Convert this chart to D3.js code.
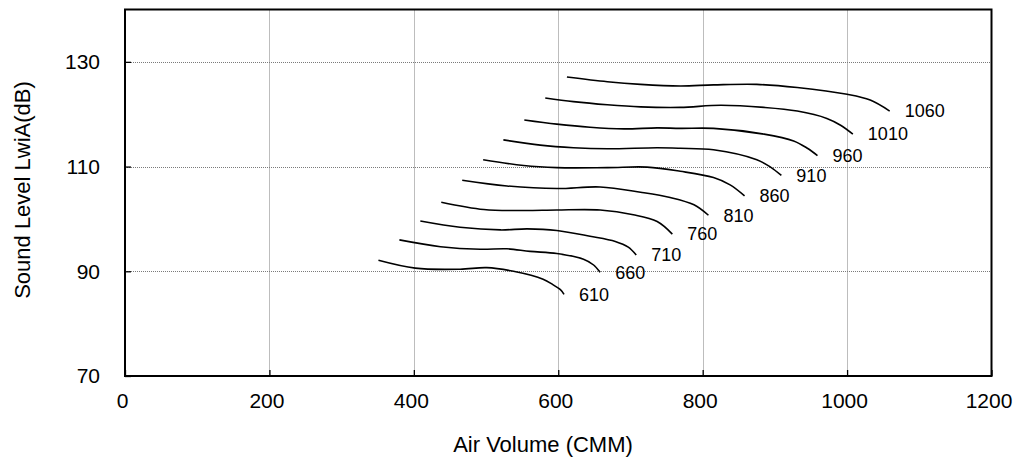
<!DOCTYPE html>
<html>
<head>
<meta charset="utf-8">
<script src="https://cdn.jsdelivr.net/npm/d3@7"></script>
<style>
  html, body { margin: 0; padding: 0; background: #fff; }
  svg { display: block; font-family: "Liberation Sans", Arial, sans-serif; }
</style>
</head>
<body>
<svg id="chart" width="1017" height="459"></svg>
<script>
// ---- data ----
const xTicks = [0, 200, 400, 600, 800, 1000, 1200];
const yTicks = [70, 90, 110, 130];
const xGrid = [200, 400, 600, 800, 1000];
const yGrid = [90, 110, 130];
const speeds = [610, 660, 710, 760, 810, 860, 910, 960, 1010, 1060];

const c610  = [[351,92.1],[402,90.6],[464,90.4],[501,90.7],[538,90.0],[579,88.5],[593,87.4],[603,86.5],[608,85.6]];
const c660  = [[380,96.0],[437,94.7],[492,94.2],[529,94.3],[561,93.8],[598,93.4],[635,92.3],[649,91.2],[658,89.8]];
const c710  = [[409,99.6],[464,98.4],[520,97.9],[557,98.1],[598,97.8],[644,96.7],[679,95.7],[697,94.6],[708,93.1]];
const c760  = [[438,103.2],[497,101.8],[552,101.6],[598,101.7],[658,101.7],[704,100.8],[737,99.5],[758,97.1]];
const c810  = [[467,107.4],[529,106.3],[598,105.8],[658,106.1],[714,105.1],[755,104.1],[788,102.7],[808,100.7]];
const c860  = [[496,111.3],[552,110.2],[598,109.8],[668,109.8],[723,109.9],[769,109.1],[815,107.9],[838,106.5],[858,104.4]];
const c910  = [[524,115.1],[575,114.1],[621,113.6],[668,113.4],[737,113.6],[769,113.5],[815,113.2],[875,111.3],[894,109.9],[909,108.3]];
const c960  = [[553,118.9],[598,118.1],[644,117.5],[691,117.2],[737,117.4],[769,117.3],[815,117.3],[885,116.2],[926,114.9],[945,113.5],[959,112.1]];
const c1010 = [[582,123.1],[621,122.4],[668,121.8],[714,121.4],[769,121.3],[825,121.7],[885,121.3],[931,120.6],[972,119.2],[991,117.9],[1008,116.2]];
const c1060 = [[612,127.1],[668,126.2],[714,125.7],[769,125.4],[815,125.6],[875,125.7],[931,125.1],[1000,123.8],[1032,122.7],[1059,120.6]];

const curves = [c610, c660, c710, c760, c810, c860, c910, c960, c1010, c1060];

// ---- layout ----
const W = 1017, H = 459;
const margin = { left: 125, right: 25.5, top: 9.5, bottom: 83 };
const svg = d3.select("#chart");

const x = d3.scaleLinear().domain([0, 1200]).range([margin.left, W - margin.right]);
const y = d3.scaleLinear().domain([70, 140]).range([H - margin.bottom, margin.top]);

// grid
const grid = svg.append("g").attr("stroke", "#7a7a7a").attr("stroke-width", 1).attr("stroke-dasharray", "1,1");
grid.selectAll("line.v").data(xGrid).join("line")
  .attr("x1", d => Math.round(x(d)) + 0.5).attr("x2", d => Math.round(x(d)) + 0.5)
  .attr("y1", y(140)).attr("y2", y(70));
grid.selectAll("line.h").data(yGrid).join("line")
  .attr("y1", d => Math.round(y(d)) + 0.5).attr("y2", d => Math.round(y(d)) + 0.5)
  .attr("x1", x(0)).attr("x2", x(1200));

// axes with inward ticks
const xAxis = d3.axisBottom(x).tickValues(xTicks).tickSize(-6).tickPadding(17).tickFormat(d3.format("d"));
const yAxis = d3.axisLeft(y).tickValues(yTicks).tickSize(-6).tickPadding(25).tickFormat(d3.format("d"));

const gx = svg.append("g").attr("transform", `translate(0,${y(70)})`).call(xAxis);
const gy = svg.append("g").attr("transform", `translate(${x(0)},0)`).call(yAxis);
[gx, gy].forEach(g => {
  g.select(".domain").remove();
  g.selectAll(".tick line").attr("stroke", "#000").attr("stroke-width", 1.3);
  g.selectAll(".tick text").attr("fill", "#000").attr("font-size", 21)
    .attr("font-family", '"Liberation Sans", Arial, sans-serif');
});
gx.selectAll(".tick text").attr("dx", -3);

// frame
svg.append("rect")
  .attr("x", x(0)).attr("y", y(140))
  .attr("width", x(1200) - x(0)).attr("height", y(70) - y(140))
  .attr("fill", "none").attr("stroke", "#000").attr("stroke-width", 2);

// curves
const line = d3.line().x(d => x(d[0])).y(d => y(d[1])).curve(d3.curveCatmullRom.alpha(0.5));
svg.append("g").selectAll("path").data(curves).join("path")
  .attr("d", line).attr("fill", "none").attr("stroke", "#000").attr("stroke-width", 1.6);

// curve labels
svg.append("g").selectAll("text").data(curves).join("text")
  .attr("x", d => x(d[d.length - 1][0]) + 15)
  .attr("y", d => y(d[d.length - 1][1]))
  .attr("dy", "0.35em")
  .attr("font-size", 18).attr("fill", "#000")
  .text((d, i) => speeds[i]);

// axis titles
svg.append("text").attr("x", 543).attr("y", 452).attr("text-anchor", "middle")
  .attr("font-size", 22).attr("fill", "#000").text("Air Volume (CMM)");
svg.append("text").attr("transform", `translate(30,190) rotate(-90)`).attr("text-anchor", "middle")
  .attr("font-size", 22).attr("fill", "#000").text("Sound Level LwiA(dB)");
</script>
</body>
</html>
